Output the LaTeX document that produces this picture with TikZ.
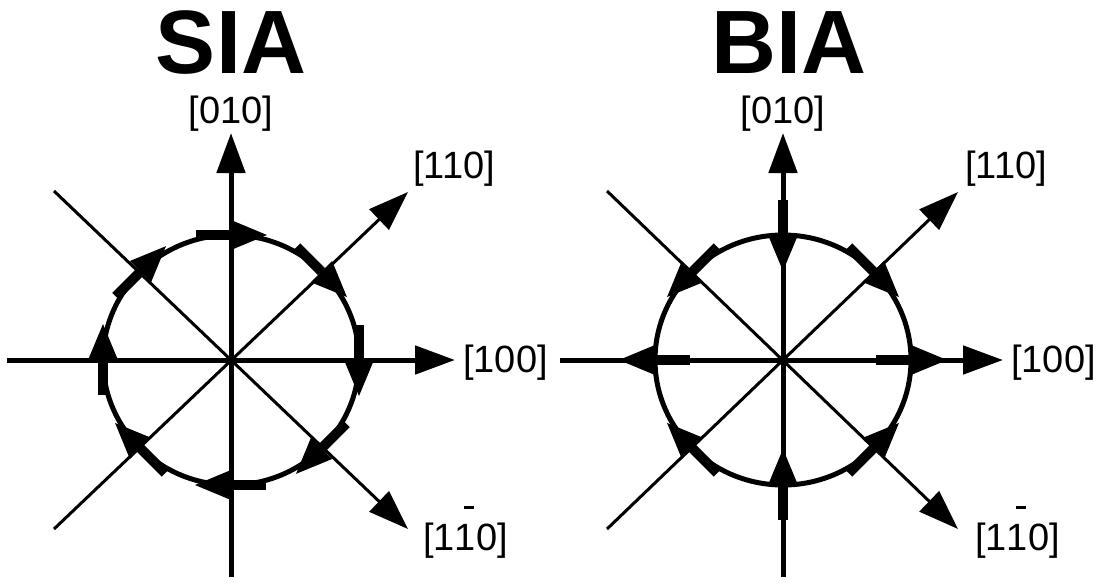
\documentclass[tikz,border=0pt]{standalone}
\usepackage{fontspec}
\setmainfont{Liberation Sans}
\usetikzlibrary{arrows.meta}

\tikzset{
  axis/.style={line width=5pt},
  diag/.style={line width=3pt},
  ring/.style={line width=5pt},
  dirlabel/.style={inner sep=0pt, font=\fontsize{38}{40}\selectfont},
  paneltitle/.style={inner sep=0pt, font=\fontsize{90}{90}\selectfont\bfseries},
}
% one small spin arrow: bar behind the crossing, head in front
\newcommand{\spinarrow}{%
  \fill (-35,-5) rectangle (0,5);
  \fill (0,15) -- (36,0) -- (0,-15) -- cycle;}
% bar over the second index
\newcommand{\onebar}{\makebox[0pt][l]{\hspace{0.24em}\rule[1.08em]{0.26em}{0.07em}}}

\begin{document}
\begin{tikzpicture}[x=1pt, y=1pt, >={Triangle[length=40pt,width=28pt]}]
  \useasboundingbox (0,0) rectangle (1113,-582);

  % ---------------- SIA ----------------
  \coordinate (S) at (231,-360);
  \coordinate (Sbot) at (231,-577);
  \coordinate (Stop) at (231,-133);
  \coordinate (Sleft) at (7,-360);
  \coordinate (Sright) at (455,-360);
  \coordinate (Sdl) at (54,-529);
  \coordinate (Sur) at (408,-192);
  \coordinate (Sul) at (54,-191);
  \coordinate (Sdr) at (408,-529);

  \draw[ring] (S) ellipse [x radius=128pt, y radius=125pt];
  \draw[axis,->] (Sbot) -- (Stop);
  \draw[axis,->] (Sleft) -- (Sright);
  \draw[diag,->] (Sdl) -- (Sur);
  \draw[diag,->] (Sul) -- (Sdr);

  % spin arrows, all clockwise
  \begin{scope}[shift={(S)}]
    \foreach \t/\d in {0/-90, 45/-45, 90/0, 135/45, 180/90, 225/135, 270/180, 315/225} {
      \begin{scope}[shift={(\t:128 and 125)}, rotate=\d]
        \spinarrow
      \end{scope}
    }
  \end{scope}

  \node[paneltitle, anchor=base] (siatitle) at (231,-73) {SIA};
  \node[dirlabel, anchor=base] (s010) at (231,-123) {[010]};
  \node[dirlabel, anchor=base west] (s100) at (463,-372) {[100]};
  \node[dirlabel, anchor=base west] (s110) at (413,-178) {[110]};
  \node[dirlabel, anchor=base west] (s1b10) at (423,-550) {[1\onebar10]};

  % ---------------- BIA ----------------
  \coordinate (B) at (783,-360);
  \coordinate (Bbot) at (783,-577);
  \coordinate (Btop) at (783,-133);
  \coordinate (Bleft) at (560,-360);
  \coordinate (Bright) at (1003,-360);
  \coordinate (Bdl) at (607,-529);
  \coordinate (Bur) at (958,-192);
  \coordinate (Bul) at (607,-191);
  \coordinate (Bdr) at (958,-529);

  \draw[ring] (B) ellipse [x radius=128pt, y radius=125pt];
  \draw[axis,->] (Bbot) -- (Btop);
  \draw[axis,->] (Bleft) -- (Bright);
  \draw[diag,->] (Bdl) -- (Bur);
  \draw[diag,->] (Bul) -- (Bdr);

  % spin arrows, mirrored field
  \begin{scope}[shift={(B)}]
    \foreach \t/\d in {0/0, 45/-45, 90/-90, 135/-135, 180/180, 225/135, 270/90, 315/45} {
      \begin{scope}[shift={(\t:128 and 125)}, rotate=\d]
        \spinarrow
      \end{scope}
    }
  \end{scope}

  \node[paneltitle, anchor=base] (biatitle) at (789,-73) {BIA};
  \node[dirlabel, anchor=base] (b010) at (783,-123) {[010]};
  \node[dirlabel, anchor=base west] (b100) at (1011,-372) {[100]};
  \node[dirlabel, anchor=base west] (b110) at (965,-178) {[110]};
  \node[dirlabel, anchor=base west] (b1b10) at (975,-550) {[1\onebar10]};
\end{tikzpicture}
\end{document}
